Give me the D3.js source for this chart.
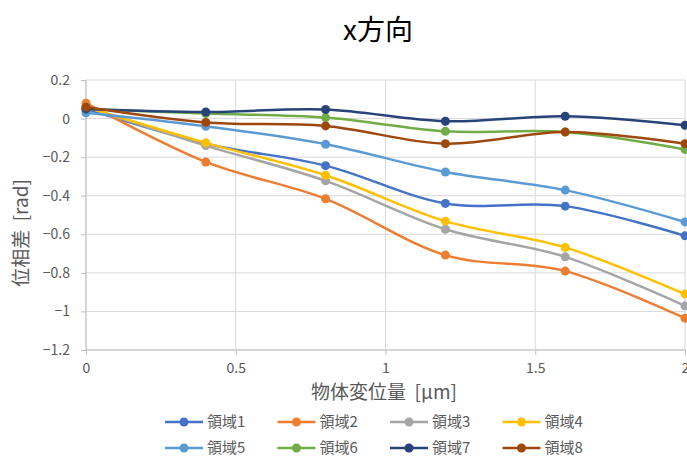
<!DOCTYPE html>
<html>
<head>
<meta charset="utf-8">
<script src="https://cdn.jsdelivr.net/npm/d3@7"></script>
<style>
  body { margin: 0; background: #fff; overflow: hidden; }
  svg { font-family: "Noto Sans CJK JP", "Noto Sans", sans-serif; display: block; }
  .grid line { stroke: #d9d9d9; stroke-width: 1; }
  .axis text { fill: #595959; }
  .axis path, .axis line { stroke: #bfbfbf; }
</style>
</head>
<body>
<svg id="chart" width="687" height="456"></svg>
<script>
var xValues = [0, 0.4, 0.8, 1.2, 1.6, 2.0];
var seriesNames = ["領域1", "領域2", "領域3", "領域4", "領域5", "領域6", "領域7", "領域8"];
var colors = ["#4472C4", "#ED7D31", "#A5A5A5", "#FFC000", "#5B9BD5", "#70AD47", "#264478", "#9E480E"];

var area1 = [0.05, -0.13, -0.244, -0.44, -0.454, -0.608];
var area2 = [0.08, -0.225, -0.416, -0.708, -0.791, -1.035];
var area3 = [0.06, -0.14, -0.323, -0.574, -0.717, -0.971];
var area4 = [0.06, -0.126, -0.294, -0.532, -0.668, -0.91];
var area5 = [0.03, -0.04, -0.133, -0.277, -0.371, -0.536];
var area6 = [0.05, 0.026, 0.005, -0.066, -0.07, -0.16];
var area7 = [0.05, 0.034, 0.047, -0.014, 0.012, -0.035];
var area8 = [0.06, -0.02, -0.038, -0.13, -0.069, -0.13];
var allSeries = [area1, area2, area3, area4, area5, area6, area7, area8];

var xTicks = [0, 0.5, 1, 1.5, 2];
var yTicks = [0.2, 0, -0.2, -0.4, -0.6, -0.8, -1, -1.2];

var svg = d3.select("#chart");
var pLeft = 86, pRight = 685, pTop = 80, pBottom = 350;

var xScale = d3.scaleLinear().domain([0, 2]).range([pLeft, pRight]);
var yScale = d3.scaleLinear().domain([-1.2, 0.2]).range([pBottom, pTop]);

// gridlines
var grid = svg.append("g").attr("class", "grid");
grid.selectAll("line.h").data(yTicks).enter().append("line")
    .attr("x1", pLeft).attr("x2", pRight)
    .attr("y1", d => yScale(d)).attr("y2", d => yScale(d));
grid.selectAll("line.v").data(xTicks).enter().append("line")
    .attr("x1", d => xScale(d)).attr("x2", d => xScale(d))
    .attr("y1", pTop).attr("y2", pBottom);

// axes
svg.append("g").attr("class", "axis")
    .attr("transform", "translate(0," + pBottom + ")")
    .call(d3.axisBottom(xScale).tickValues(xTicks).tickSize(5).tickPadding(8).tickFormat(d3.format("")))
    .call(g => g.select(".domain").attr("d", "M" + pLeft + ",0H" + pRight));
svg.append("g").attr("class", "axis")
    .attr("transform", "translate(" + pLeft + ",0)")
    .call(d3.axisLeft(yScale).tickValues(yTicks).tickSize(5).tickPadding(11).tickFormat(d3.format("")))
    .call(g => g.select(".domain").attr("d", "M0," + pTop + "V" + pBottom));
svg.selectAll(".axis text").attr("font-size", 14).attr("font-family", "\"Noto Sans CJK JP\", sans-serif");

// lines
var line = d3.line()
    .x((d, i) => xScale(xValues[i]))
    .y(d => yScale(d))
    .curve(d3.curveCardinal.tension(0));

allSeries.forEach(function (vals, k) {
    svg.append("path")
        .datum(vals)
        .attr("d", line)
        .attr("fill", "none")
        .attr("stroke", colors[k])
        .attr("stroke-width", 2.5);
    svg.selectAll(null).data(vals).enter().append("circle")
        .attr("cx", (d, i) => xScale(xValues[i]))
        .attr("cy", d => yScale(d))
        .attr("r", 4.5)
        .attr("fill", colors[k]);
});

// titles
svg.append("text").attr("x", 378).attr("y", 40).attr("text-anchor", "middle")
    .attr("font-size", 28).attr("fill", "#000").text("x方向");
svg.append("text").attr("x", 384).attr("y", 399).attr("text-anchor", "middle")
    .attr("font-size", 19).attr("fill", "#595959")
    .style("white-space", "pre").text("物体変位量  [μm]");
svg.append("text").attr("transform", "translate(28,233) rotate(-90)").attr("text-anchor", "middle")
    .attr("font-size", 19).attr("fill", "#595959")
    .style("white-space", "pre").text("位相差  [rad]");

// legend
var legend = svg.append("g");
seriesNames.forEach(function (name, k) {
    var lx = 165 + (k % 4) * 112.5;
    var ly = k < 4 ? 422 : 448;
    legend.append("line").attr("x1", lx).attr("x2", lx + 38).attr("y1", ly).attr("y2", ly)
        .attr("stroke", colors[k]).attr("stroke-width", 2.5);
    legend.append("circle").attr("cx", lx + 19).attr("cy", ly).attr("r", 4.5).attr("fill", colors[k]);
    legend.append("text").attr("x", lx + 42).attr("y", ly + 5).attr("font-size", 15)
        .attr("fill", "#595959").text(name);
});
</script>
</body>
</html>
